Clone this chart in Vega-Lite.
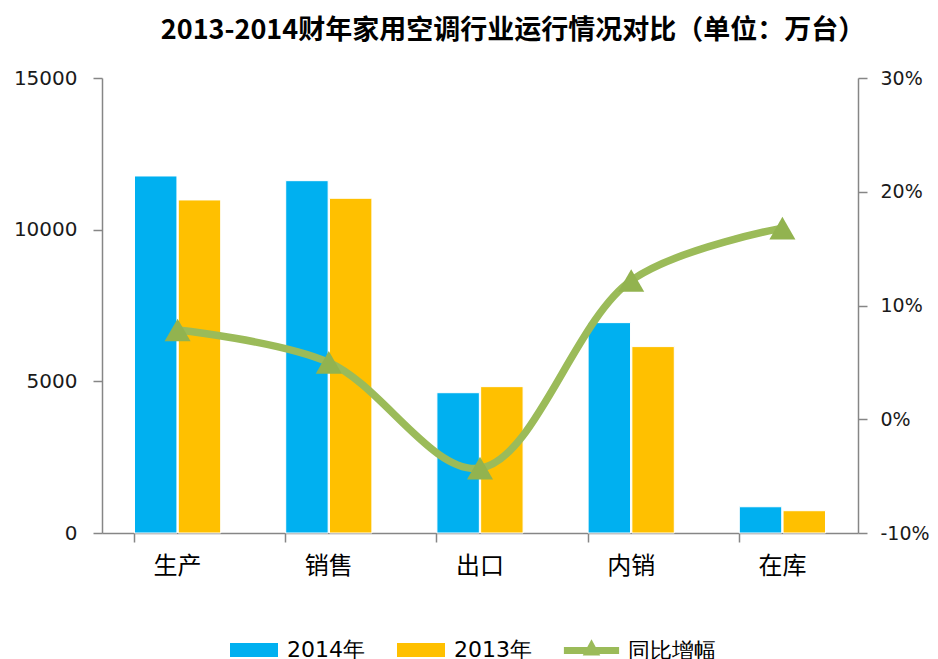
{
  "$schema": "https://vega.github.io/schema/vega-lite/v6.json",
  "width": 756,
  "height": 455,
  "autosize": "none",
  "padding": {"left": 102, "top": 78, "right": 80, "bottom": 126},
  "background": "white",
  "title": {
    "text": "2013-2014财年家用空调行业运行情况对比（单位：万台）",
    "anchor": "middle",
    "frame": "group",
    "dx": 33,
    "offset": 23,
    "font": "Noto Sans CJK SC",
    "fontSize": 27,
    "fontWeight": "bold",
    "color": "#000000"
  },
  "datasets": {
    "bars": [
      {"cat": "生产", "series": "2014年", "value": 11770},
      {"cat": "生产", "series": "2013年", "value": 10980},
      {"cat": "销售", "series": "2014年", "value": 11615},
      {"cat": "销售", "series": "2013年", "value": 11035},
      {"cat": "出口", "series": "2014年", "value": 4625},
      {"cat": "出口", "series": "2013年", "value": 4825},
      {"cat": "内销", "series": "2014年", "value": 6935},
      {"cat": "内销", "series": "2013年", "value": 6145},
      {"cat": "在库", "series": "2014年", "value": 865},
      {"cat": "在库", "series": "2013年", "value": 735}
    ],
    "growth": [
      {"cat": "生产", "series": "同比增幅", "rate": 0.0785},
      {"cat": "销售", "series": "同比增幅", "rate": 0.05},
      {"cat": "出口", "series": "同比增幅", "rate": -0.043},
      {"cat": "内销", "series": "同比增幅", "rate": 0.122},
      {"cat": "在库", "series": "同比增幅", "rate": 0.168}
    ]
  },
  "config": {
    "view": {"stroke": null},
    "axis": {
      "grid": false,
      "domainColor": "#868686",
      "tickColor": "#868686",
      "domainWidth": 1.5,
      "tickWidth": 1.5,
      "labelColor": "#1a1a1a",
      "title": null
    },
    "legend": {
      "orient": "none",
      "direction": "horizontal",
      "title": null,
      "symbolSize": 2304,
      "labelOffset": 9,
      "columnPadding": 32,
      "labelFont": "DejaVu Sans",
      "labelFontSize": 22,
      "labelColor": "#000000",
      "labelLimit": 0
    }
  },
  "encoding": {
    "x": {
      "field": "cat",
      "type": "nominal",
      "sort": ["生产", "销售", "出口", "内销", "在库"],
      "scale": {"paddingInner": 0.43, "paddingOuter": 0.215},
      "axis": {
        "bandPosition": 0,
        "labelAngle": 0,
        "tickSize": 9,
        "labelPadding": 12,
        "labelFont": "Noto Sans CJK SC",
        "labelFontSize": 24,
        "labelColor": "#000000"
      }
    }
  },
  "layer": [
    {
      "data": {"name": "bars"},
      "mark": {"type": "bar", "stroke": "white", "strokeWidth": 1},
      "encoding": {
        "xOffset": {
          "field": "series",
          "type": "nominal",
          "sort": ["2014年", "2013年"],
          "scale": {"paddingInner": 0.03}
        },
        "y": {
          "field": "value",
          "type": "quantitative",
          "scale": {"domain": [0, 15000]},
          "axis": {
            "orient": "left",
            "values": [0, 5000, 10000, 15000],
            "format": "d",
            "tickSize": 9,
            "labelPadding": 16,
            "labelFont": "DejaVu Sans",
            "labelFontSize": 20
          }
        },
        "fill": {
          "field": "series",
          "type": "nominal",
          "scale": {
            "domain": ["2014年", "2013年"],
            "range": ["#00B0F0", "#FFC000"]
          },
          "legend": {
            "legendX": 128,
            "legendY": 548,
            "symbolType": "M-1,-0.29H1V0.29H-1Z",
            "symbolStrokeWidth": 0
          }
        }
      }
    },
    {
      "data": {"name": "growth"},
      "encoding": {
        "y": {
          "field": "rate",
          "type": "quantitative",
          "scale": {"domain": [-0.1, 0.3]},
          "axis": {
            "orient": "right",
            "values": [-0.1, 0, 0.1, 0.2, 0.3],
            "labelExpr": "(datum.value < 0 ? '-' : '') + format(abs(datum.value), '.0%')",
            "tickSize": 9,
            "labelPadding": 13,
            "labelFont": "DejaVu Sans",
            "labelFontSize": 19
          }
        }
      },
      "layer": [
        {
          "mark": {"type": "line", "interpolate": "catmull-rom", "strokeWidth": 7.5, "strokeCap": "round"},
          "encoding": {
            "stroke": {
              "field": "series",
              "type": "nominal",
              "scale": {"domain": ["同比增幅"], "range": ["#9BBB59"]},
              "legend": {
                "legendX": 462,
                "legendY": 545,
                "symbolType": "M-1.15,0H1.15 M-0.12,0.06L0,-0.16L0.12,0.06Z",
                "symbolStrokeWidth": 7,
                "symbolFillColor": "#9BBB59"
              }
            }
          }
        },
        {
          "mark": {"type": "point", "shape": "triangle-up", "size": 680, "filled": true, "opacity": 1, "color": "#92B34F"},
          "encoding": {}
        }
      ]
    }
  ],
  "resolve": {"scale": {"y": "independent"}}
}
